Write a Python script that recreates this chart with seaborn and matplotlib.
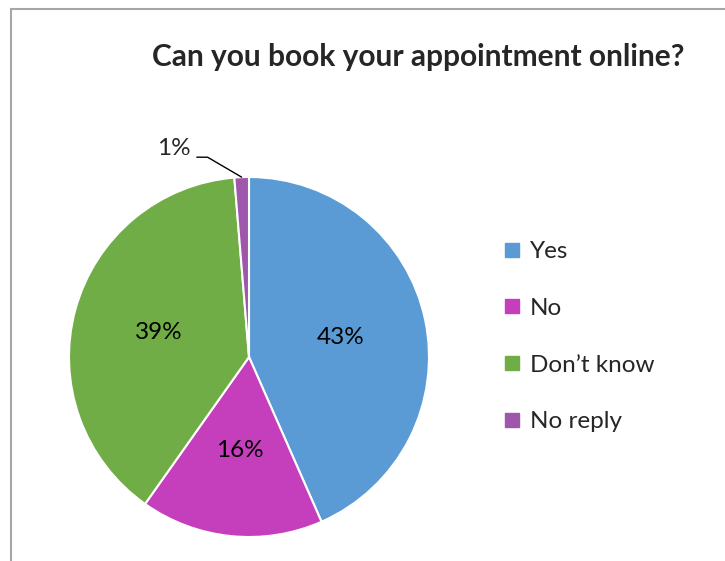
import matplotlib
matplotlib.use("Agg")
import matplotlib.pyplot as plt
from matplotlib.lines import Line2D
from matplotlib.patches import Rectangle
import numpy as np
import seaborn as sns

sns.set_style("white")
plt.rcParams['font.family'] = ['Lato', 'DejaVu Sans']

categories = ["Yes", "No", "Don\u2019t know", "No reply"]
shares = [43.4, 16.4, 38.9, 1.3]
colors = ["#5B9BD5", "#C53EBB", "#70AD47", "#9E57AB"]
title = "Can you book your appointment online?"

fig = plt.figure(figsize=(7.25, 5.61), dpi=100)
# frame like the office chart border (left and top visible)
fig.patches.append(Rectangle((10.5 / 725, -0.1), 1.2, 1 - 8.5 / 561 + 0.1,
                             transform=fig.transFigure, fill=False,
                             edgecolor="#A6A6A6", linewidth=1.5))

ax = fig.add_axes([69 / 725, 24 / 561, 360 / 725, 360 / 561])
wedges, texts, autotexts = ax.pie(
    shares, colors=colors, startangle=90, counterclock=False,
    autopct="%.0f%%", pctdistance=0.52,
    wedgeprops=dict(edgecolor="white", linewidth=1.5),
    textprops=dict(fontsize=17.5, color="black"))
ax.set_xlim(-1, 1)
ax.set_ylim(-1, 1)
ax.set_aspect("equal")

# small slice gets its label outside with a leader line
small = wedges[3]
autotexts[3].set_visible(False)
mid = np.deg2rad((small.theta1 + small.theta2) / 2)
ex, ey = np.cos(mid), np.sin(mid)
ax.annotate(f"{shares[3]:.0f}%", xy=(ex, ey), xytext=(-0.42, 1.16),
            fontsize=17.5, ha="center", va="center", annotation_clip=False)
ax.plot([-0.29, -0.23, ex], [1.11, 1.11, ey], color="black", lw=1, clip_on=False)

handles = [Line2D([0], [0], marker="s", linestyle="", markersize=10,
                  markerfacecolor=c, markeredgecolor=c) for c in colors]
fig.legend(handles, categories, loc="upper left", bbox_to_anchor=(502 / 725, 1 - 241 / 561),
           frameon=False, fontsize=17.5, labelspacing=1.47, handlelength=0.8,
           handletextpad=0.35, borderaxespad=0, borderpad=0)

fig.text(0.577, 0.899, title, ha="center", va="center", fontsize=21.5, fontweight="bold")

fig.savefig("out.png", dpi=100)
